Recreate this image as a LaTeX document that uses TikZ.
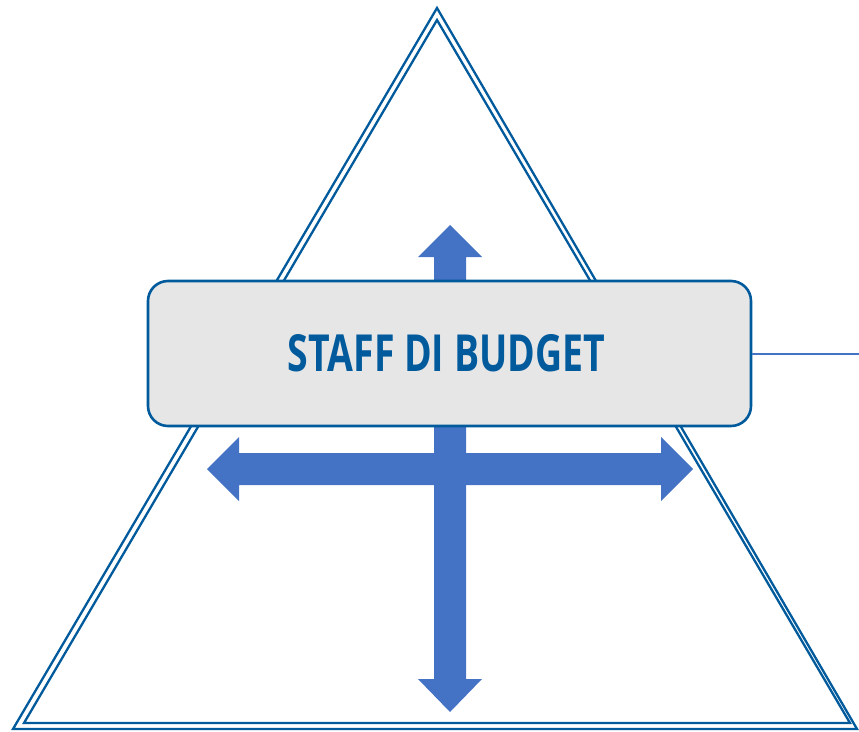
\documentclass[tikz,border=0pt]{standalone}
\usepackage{fontspec}
\setmainfont{Open Sans}
\usepackage{graphicx}
\definecolor{darkblue}{RGB}{0,90,156}
\definecolor{arrowblue}{RGB}{68,114,196}
\definecolor{boxgray}{RGB}{230,230,230}
\begin{document}
\begin{tikzpicture}[x=1pt,y=-1pt,
  triline/.style={draw=darkblue,line width=2.3pt,line join=miter},
  bigarrow/.style={fill=arrowblue,draw=none},
  labelbox/.style={draw=darkblue,fill=boxgray,line width=2.6pt,rounded corners=20pt,
    minimum width=603pt,minimum height=145pt,inner sep=0pt}]
\useasboundingbox (0,0) rectangle (859,731);
% double-lined triangle
\draw[triline] (437,8) -- (857,729) -- (13,729) -- cycle;
\draw[triline] (437,20) -- (850,723) -- (24,723) -- cycle;
% vertical double arrow
\fill[bigarrow] (450,225) -- (482,257) -- (466,257) -- (466,679) -- (482,679) -- (450,712)
  -- (418,679) -- (434,679) -- (434,257) -- (418,257) -- cycle;
% horizontal double arrow
\fill[bigarrow] (207,469) -- (239,437) -- (239,453) -- (661,453) -- (661,437) -- (693,469)
  -- (661,501) -- (661,485) -- (239,485) -- (239,501) -- cycle;
% box
\node[labelbox] (box) at (449.5,353.5) {};
\node[inner sep=0pt,text=darkblue] (label) at (446.5,353.5)
  {\resizebox{317pt}{37pt}{\bfseries STAFF DI BUDGET}};
\coordinate (lineend) at (859,354);
\draw[arrowblue,line width=2.3pt] (box.east |- lineend) -- (lineend);
\end{tikzpicture}
\end{document}
